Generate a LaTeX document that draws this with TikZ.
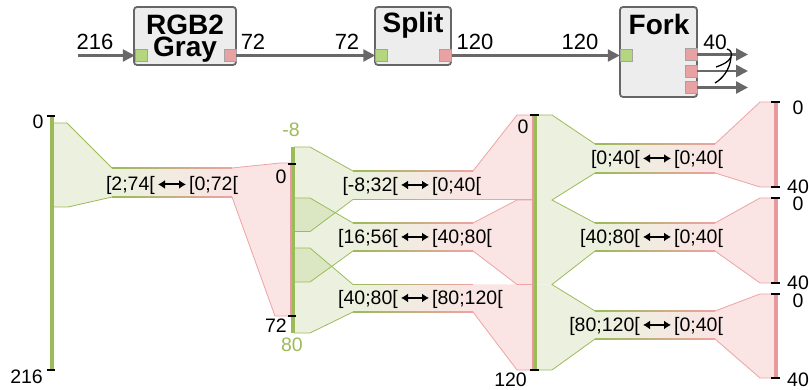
\documentclass[tikz,border=0pt]{standalone}
\usepackage{fontspec}
\setmainfont{Liberation Sans}
\usetikzlibrary{arrows.meta,calc}
\definecolor{gline}{HTML}{9BBB59}
\definecolor{rline}{HTML}{EFA3A3}
\definecolor{rfill}{HTML}{FAE4E4}
\definecolor{rbar}{HTML}{E8999B}
\definecolor{boxfill}{HTML}{EDEDED}
\definecolor{boxline}{HTML}{666666}
\definecolor{arrowgray}{HTML}{686868}
\definecolor{gport}{HTML}{B4D67E}
\definecolor{rport}{HTML}{E9A2A3}
\colorlet{gfill}{gline!20!white}
\tikzset{
  block/.style={draw=boxline, line width=1.8pt, fill=boxfill, rounded corners=3pt, inner sep=0pt},
  blocktxt/.style={font=\fontsize{28}{28}\selectfont\bfseries, inner sep=0pt, anchor=base},
  gportbox/.style={draw=boxline!60, line width=0.5pt, fill=gport, minimum size=12pt, inner sep=0pt},
  rportbox/.style={draw=boxline!60, line width=0.5pt, fill=rport, minimum size=12pt, inner sep=0pt},
  flow/.style={draw=arrowgray, line width=2.6pt, -{Triangle[length=12pt,width=12pt]}},
  toplbl/.style={font=\fontsize{22}{22}\selectfont, inner sep=0pt, anchor=base},
  lbl/.style={font=\fontsize{19.5}{21}\selectfont, inner sep=0pt},
  dbl/.style={{Latex[length=7pt,width=9pt]}-{Latex[length=7pt,width=9pt]}, line width=2pt},
  tickmark/.style={line width=2pt, black},
  gedge/.style={draw=gline, line width=0.8pt},
  redge/.style={draw=rline, line width=0.8pt},
  curvemark/.style={line width=1.3pt, black}
}
\begin{document}
\begin{tikzpicture}[x=1pt,y=-1pt]
\useasboundingbox (0,0) rectangle (809,390);

% ---------------- top pipeline ----------------
\node[block, minimum width=102pt, minimum height=58pt] (rgb) at (185,36) {};
\node[blocktxt] (rgbt1) at (185,35) {RGB2};
\node[blocktxt] (rgbt2) at (185,57) {Gray};
\node[gportbox] (rgbin) at (141,55.5) {};
\node[rportbox] (rgbout) at (230,55.5) {};

\node[block, minimum width=76pt, minimum height=58pt] (split) at (413,36) {};
\node[blocktxt] (splitt) at (413,33) {Split};
\node[gportbox] (splitin) at (381.5,55.5) {};
\node[rportbox] (splitout) at (445.5,55.5) {};

\node[block, minimum width=77pt, minimum height=90pt] (fork) at (658.5,52) {};
\node[blocktxt] (forkt) at (659,35) {Fork};
\node[gportbox] (forkin) at (626,55.5) {};
\node[rportbox] (forko1) at (691,54.5) {};
\node[rportbox] (forko2) at (691,71) {};
\node[rportbox] (forko3) at (691,87.5) {};

\coordinate (src) at (78,55.5);
\coordinate (f1end) at (748,54.5);
\coordinate (f2end) at (748,71);
\coordinate (f3end) at (748,87.5);
\draw[flow] (src) -- (rgbin.west);
\draw[flow] (rgbout.east) -- (splitin.west);
\draw[flow] (splitout.east) -- (forkin.west);
\draw[flow] (forko1.east) -- (f1end);
\draw[flow] (forko2.east) -- (f2end);
\draw[flow] (forko3.east) -- (f3end);

\node[toplbl] (l216) at (95,50) {216};
\node[toplbl] (l72a) at (253,50) {72};
\node[toplbl] (l72b) at (347,50) {72};
\node[toplbl] (l120a) at (475,50) {120};
\node[toplbl] (l120b) at (580,50) {120};
\node[toplbl, font=\fontsize{21}{21}\selectfont] (l40) at (715,50) {40};
\draw[curvemark] (727,49) .. controls (731,50) and (732,53) .. (731,57);
\draw[curvemark] (731,57) .. controls (729,62) and (722,65) .. (716,67);
\draw[curvemark] (731,57) .. controls (730,70) and (722,79) .. (715,83);

% ---------------- lower chart: fills ----------------
% red fills
\fill[rfill] (232,168) -- (280,163) -- (292,163) -- (292,316) -- (275,316) -- (232,197) -- cycle;
\fill[rfill] (473,171) -- (517,115) -- (534,115) -- (534,199.5) -- (473,199.5) -- cycle;
\fill[rfill] (473,223) -- (517,200) -- (534,200) -- (534,284.5) -- (517,284.5) -- (473,251) -- cycle;
\fill[rfill] (473,284.5) -- (534,284.5) -- (534,370) -- (517,370) -- (473,312) -- cycle;
\fill[rfill] (715,144) -- (760,102) -- (775,102) -- (775,187) -- (760,187) -- (715,173) -- cycle;
\fill[rfill] (715,223) -- (760,198) -- (775,198) -- (775,283) -- (760,283) -- (715,251) -- cycle;
\fill[rfill] (715,311) -- (760,294) -- (775,294) -- (775,378) -- (760,378) -- (715,339) -- cycle;

% green fills
\fill[gfill] (52,123) -- (67,123) -- (112,168) -- (112,197) -- (68,207) -- (52,207) -- cycle;
\fill[gline, fill opacity=0.2] (294,147) -- (310,147) -- (353,171) -- (353,199.5) -- (310,231.6) -- (294,231.6) -- cycle;
\fill[gline, fill opacity=0.2] (294,198) -- (310,198) -- (353,223) -- (353,251) -- (310,282) -- (294,282) -- cycle;
\fill[gline, fill opacity=0.2] (294,248) -- (310,248) -- (353,284.5) -- (353,312) -- (310,333) -- (294,333) -- cycle;
\fill[gfill] (536,115) -- (552,115) -- (595,144) -- (595,173) -- (552,200) -- (536,200) -- cycle;
\fill[gfill] (536,200) -- (552,200) -- (595,223) -- (595,251) -- (552,284.5) -- (536,284.5) -- cycle;
\fill[gfill] (536,284.5) -- (552,284.5) -- (595,311) -- (595,339) -- (552,370) -- (536,370) -- cycle;

% bands (green to red)
\shade[left color=gfill, right color=rfill] (112,168) rectangle (232,197);
\shade[left color=gfill, right color=rfill] (353,171) rectangle (473,199.5);
\shade[left color=gfill, right color=rfill] (353,223) rectangle (473,251);
\shade[left color=gfill, right color=rfill] (353,284.5) rectangle (473,312);
\shade[left color=gfill, right color=rfill] (595,144) rectangle (715,173);
\shade[left color=gfill, right color=rfill] (595,223) rectangle (715,251);
\shade[left color=gfill, right color=rfill] (595,311) rectangle (715,339);

% band edges
\foreach \xa/\xb/\yy in {112/232/168, 112/232/197, 353/473/171, 353/473/199.5, 353/473/223, 353/473/251, 353/473/284.5, 353/473/312, 595/715/144, 595/715/173, 595/715/223, 595/715/251, 595/715/311, 595/715/339}
  \shade[left color=gline, right color=rline] (\xa,\yy-0.4) rectangle (\xb,\yy+0.4);

% green edges
\draw[gedge] (52,123) -- (67,123) -- (112,168);
\draw[gedge] (112,197) -- (68,207) -- (52,207);
\draw[gedge] (294,147) -- (310,147) -- (353,171);
\draw[gedge] (353,199.5) -- (310,231.6) -- (294,231.6);
\draw[gedge] (294,198) -- (310,198) -- (353,223);
\draw[gedge] (353,251) -- (310,282) -- (294,282);
\draw[gedge] (294,248) -- (310,248) -- (353,284.5);
\draw[gedge] (353,312) -- (310,333) -- (294,333);
\draw[gedge] (536,115) -- (552,115) -- (595,144);
\draw[gedge] (595,173) -- (552,200) -- (595,223);
\draw[gedge] (595,251) -- (552,284.5) -- (595,311);
\draw[gedge] (595,339) -- (552,370) -- (536,370);

% red edges
\draw[redge] (232,168) -- (280,163) -- (291,163);
\draw[redge] (232,197) -- (275,316) -- (291,316);
\draw[redge] (473,171) -- (517,115) -- (533,115);
\draw[redge] (473,199.5) -- (533,199.5);
\draw[redge] (473,223) -- (517,200) -- (533,200);
\draw[redge] (473,251) -- (517,284.5) -- (533,284.5);
\draw[redge] (473,312) -- (517,370) -- (533,370);
\draw[redge] (715,144) -- (760,102) -- (774,102);
\draw[redge] (715,173) -- (760,187) -- (774,187);
\draw[redge] (715,223) -- (760,198) -- (774,198);
\draw[redge] (715,251) -- (760,283) -- (774,283);
\draw[redge] (715,311) -- (760,294) -- (774,294);
\draw[redge] (715,339) -- (760,378) -- (774,378);

% bars
\draw[line width=4pt, gline] (51.5,116) -- (51.5,370);
\draw[line width=4pt, gline] (293,147) -- (293,333);
\draw[line width=1.6pt, rbar] (291,164) -- (291,316);
\draw[line width=2.2pt, rbar] (533,115) -- (533,370);
\draw[line width=2.4pt, gline] (535.3,115) -- (535.3,370);
\draw[line width=3.5pt, rbar] (776,102) -- (776,187);
\draw[line width=3.5pt, rbar] (776,198) -- (776,283);
\draw[line width=3.5pt, rbar] (776,294) -- (776,378);

% ticks
\foreach \xa/\xb/\yy in {47/55/116, 47/55/370, 288/296/164, 288/296/316, 530/539/115, 530/539/370, 771/780/102, 771/780/187, 771/780/198, 771/780/283, 771/780/294, 771/780/378}
  \draw[tickmark] (\xa,\yy) -- (\xb,\yy);

% axis labels
\node[lbl] (a0) at (38,122) {0};
\node[lbl, anchor=east] (a216) at (43,377) {216};
\node[lbl] (b0) at (281,177) {0};
\node[lbl, anchor=east] (b72) at (287,326) {72};
\node[lbl, text=gline] (bm8) at (291,130) {-8};
\node[lbl, text=gline] (b80) at (292,345) {80};
\node[lbl] (c0) at (523,127) {0};
\node[lbl, anchor=east] (c120) at (527,380) {120};
\node[lbl] (d0a) at (798,108) {0};
\node[lbl] (d40a) at (798,187) {40};
\node[lbl] (d0b) at (798,204) {0};
\node[lbl] (d40b) at (798,283) {40};
\node[lbl] (d0c) at (798,301) {0};
\node[lbl] (d40c) at (798,380) {40};

% band labels
\foreach \nm/\cx/\by/\ta/\tb in {L/172/191/{[2;74[}/{[0;72[}, M1/415/191.5/{[-8;32[}/{[0;40[}, M2/415/243.5/{[16;56[}/{[40;80[}, M3/415/304.5/{[40;80[}/{[80;120[}, RA/657/165/{[0;40[}/{[0;40[}, RB/657/243.5/{[40;80[}/{[0;40[}, RC/657/331.5/{[80;120[}/{[0;40[}}{
  \node[lbl, anchor=base east] (\nm a) at (\cx-17,\by) {\ta};
  \node[lbl, anchor=base west] (\nm b) at (\cx+17,\by) {\tb};
  \draw[dbl] ([xshift=3pt,yshift=1.5pt]\nm a.east) -- ([xshift=-3pt,yshift=1.5pt]\nm b.west);
}
\end{tikzpicture}
\end{document}
